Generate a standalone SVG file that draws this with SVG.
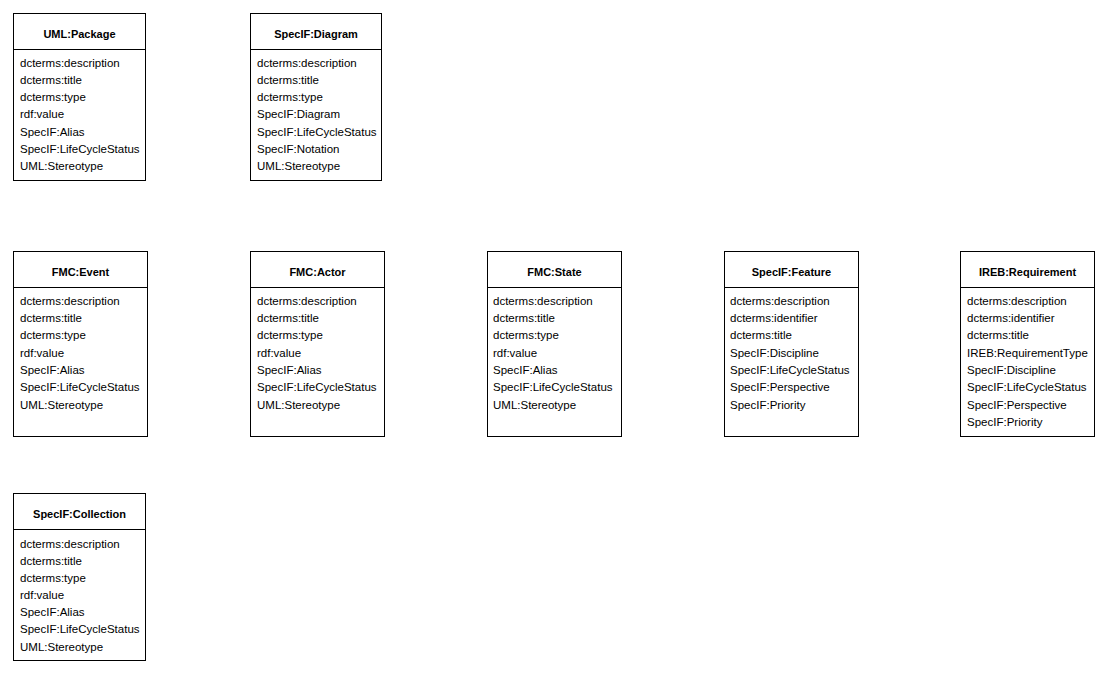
<svg xmlns="http://www.w3.org/2000/svg" width="1115" height="680" viewBox="0 0 1115 680">
<style>
.box{fill:#fff;stroke:#000;stroke-width:1}
.t{font-family:"Liberation Sans",Arial,sans-serif;font-size:11px;font-weight:bold;text-anchor:middle;fill:#000}
.a{font-family:"Liberation Sans",Arial,sans-serif;font-size:11.5px;fill:#000}
</style>
<rect width="1115" height="680" fill="#fff"/>
<g id="UML_Package">
<rect class="box" x="13.5" y="13.5" width="132" height="167"/>
<line class="box" x1="13.5" y1="49.5" x2="145.5" y2="49.5"/>
<text class="t" x="79.5" y="38">UML:Package</text>
<text class="a" x="20" y="67">dcterms:description</text>
<text class="a" x="20" y="84">dcterms:title</text>
<text class="a" x="20" y="101">dcterms:type</text>
<text class="a" x="20" y="118">rdf:value</text>
<text class="a" x="20" y="136">SpecIF:Alias</text>
<text class="a" x="20" y="153">SpecIF:LifeCycleStatus</text>
<text class="a" x="20" y="170">UML:Stereotype</text>
</g>
<g id="SpecIF_Diagram">
<rect class="box" x="250.5" y="13.5" width="131" height="167"/>
<line class="box" x1="250.5" y1="49.5" x2="381.5" y2="49.5"/>
<text class="t" x="316" y="38">SpecIF:Diagram</text>
<text class="a" x="257" y="67">dcterms:description</text>
<text class="a" x="257" y="84">dcterms:title</text>
<text class="a" x="257" y="101">dcterms:type</text>
<text class="a" x="257" y="118">SpecIF:Diagram</text>
<text class="a" x="257" y="136">SpecIF:LifeCycleStatus</text>
<text class="a" x="257" y="153">SpecIF:Notation</text>
<text class="a" x="257" y="170">UML:Stereotype</text>
</g>
<g id="FMC_Event">
<rect class="box" x="13.5" y="251.5" width="134" height="185"/>
<line class="box" x1="13.5" y1="287.5" x2="147.5" y2="287.5"/>
<text class="t" x="80.5" y="276">FMC:Event</text>
<text class="a" x="20" y="305">dcterms:description</text>
<text class="a" x="20" y="322">dcterms:title</text>
<text class="a" x="20" y="339">dcterms:type</text>
<text class="a" x="20" y="357">rdf:value</text>
<text class="a" x="20" y="374">SpecIF:Alias</text>
<text class="a" x="20" y="391">SpecIF:LifeCycleStatus</text>
<text class="a" x="20" y="409">UML:Stereotype</text>
</g>
<g id="FMC_Actor">
<rect class="box" x="250.5" y="251.5" width="134" height="185"/>
<line class="box" x1="250.5" y1="287.5" x2="384.5" y2="287.5"/>
<text class="t" x="317.5" y="276">FMC:Actor</text>
<text class="a" x="257" y="305">dcterms:description</text>
<text class="a" x="257" y="322">dcterms:title</text>
<text class="a" x="257" y="339">dcterms:type</text>
<text class="a" x="257" y="357">rdf:value</text>
<text class="a" x="257" y="374">SpecIF:Alias</text>
<text class="a" x="257" y="391">SpecIF:LifeCycleStatus</text>
<text class="a" x="257" y="409">UML:Stereotype</text>
</g>
<g id="FMC_State">
<rect class="box" x="487.5" y="251.5" width="134" height="185"/>
<line class="box" x1="487.5" y1="287.5" x2="621.5" y2="287.5"/>
<text class="t" x="554.5" y="276">FMC:State</text>
<text class="a" x="493" y="305">dcterms:description</text>
<text class="a" x="493" y="322">dcterms:title</text>
<text class="a" x="493" y="339">dcterms:type</text>
<text class="a" x="493" y="357">rdf:value</text>
<text class="a" x="493" y="374">SpecIF:Alias</text>
<text class="a" x="493" y="391">SpecIF:LifeCycleStatus</text>
<text class="a" x="493" y="409">UML:Stereotype</text>
</g>
<g id="SpecIF_Feature">
<rect class="box" x="724.5" y="251.5" width="134" height="185"/>
<line class="box" x1="724.5" y1="287.5" x2="858.5" y2="287.5"/>
<text class="t" x="791.5" y="276">SpecIF:Feature</text>
<text class="a" x="730" y="305">dcterms:description</text>
<text class="a" x="730" y="322">dcterms:identifier</text>
<text class="a" x="730" y="339">dcterms:title</text>
<text class="a" x="730" y="357">SpecIF:Discipline</text>
<text class="a" x="730" y="374">SpecIF:LifeCycleStatus</text>
<text class="a" x="730" y="391">SpecIF:Perspective</text>
<text class="a" x="730" y="409">SpecIF:Priority</text>
</g>
<g id="IREB_Requirement">
<rect class="box" x="960.5" y="251.5" width="134" height="185"/>
<line class="box" x1="960.5" y1="287.5" x2="1094.5" y2="287.5"/>
<text class="t" x="1027.5" y="276">IREB:Requirement</text>
<text class="a" x="967" y="305">dcterms:description</text>
<text class="a" x="967" y="322">dcterms:identifier</text>
<text class="a" x="967" y="339">dcterms:title</text>
<text class="a" x="967" y="357">IREB:RequirementType</text>
<text class="a" x="967" y="374">SpecIF:Discipline</text>
<text class="a" x="967" y="391">SpecIF:LifeCycleStatus</text>
<text class="a" x="967" y="409">SpecIF:Perspective</text>
<text class="a" x="967" y="426">SpecIF:Priority</text>
</g>
<g id="SpecIF_Collection">
<rect class="box" x="13.5" y="493.5" width="132" height="167"/>
<line class="box" x1="13.5" y1="529.5" x2="145.5" y2="529.5"/>
<text class="t" x="79.5" y="518">SpecIF:Collection</text>
<text class="a" x="20" y="548">dcterms:description</text>
<text class="a" x="20" y="565">dcterms:title</text>
<text class="a" x="20" y="582">dcterms:type</text>
<text class="a" x="20" y="599">rdf:value</text>
<text class="a" x="20" y="616">SpecIF:Alias</text>
<text class="a" x="20" y="633">SpecIF:LifeCycleStatus</text>
<text class="a" x="20" y="651">UML:Stereotype</text>
</g>
<g id="connectors"></g>
</svg>
